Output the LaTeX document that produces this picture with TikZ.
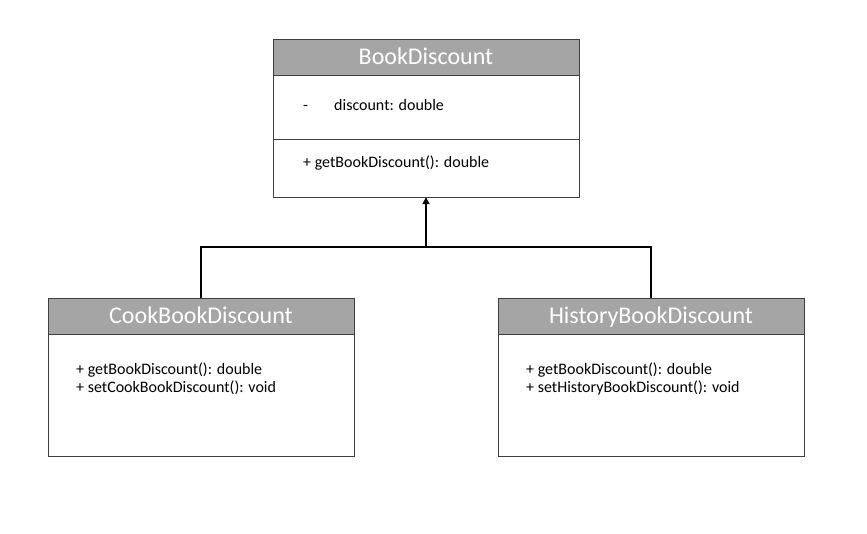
\documentclass[tikz,border=0pt]{standalone}
\usepackage{fontspec}
\setmainfont{Carlito}
\usetikzlibrary{arrows.meta}
\usetikzlibrary{positioning}
\definecolor{headgray}{HTML}{A5A5A5}
\definecolor{boxline}{HTML}{3F3F3F}

\begin{document}
\begin{tikzpicture}[x=1pt,y=-1pt,
	head/.style={rectangle, draw=boxline, fill=headgray, text=white, minimum width=306pt, minimum height=36pt, inner sep=0pt, text height=18pt, text depth=4pt, font=\fontsize{24}{28}\selectfont},
	part/.style={rectangle, draw=boxline, fill=white, minimum width=306pt, inner sep=0pt},
	member/.style={anchor=west, inner sep=0pt, text height=11pt, text depth=3pt, font=\fontsize{16}{19}\selectfont}]
	\useasboundingbox (0,0) rectangle (867,533);
	% Parent class
	\node[head] (B-1) at (426,57) {BookDiscount};
	\node[part, minimum height=64pt] (B-2) at (426,107) {};
	\node[part, minimum height=58pt] (B-3) at (426,168) {};
	\node[member] (B-minus) at (303,106) {-};
	\node[member] (B-attr) at (334,106) {discount: double};
	\node[member] (B-op) at (303,163) {+ getBookDiscount(): double};
	% Subclasses
	\foreach \n/\x/\sub in {C/201/CookBook, H/651/HistoryBook}{
		\node[head] (\n-1) at (\x,316) {\sub Discount};
		\node[part, minimum height=122pt] (\n-2) at (\x,395) {};
		\node[member] (\n-op1) at (\x-125,370) {+ getBookDiscount(): double};
		\node[member] (\n-op2) at (\x-125,388) {+ set\sub Discount(): void};
	}
	% Generalisation
	\coordinate (J) at (426,247);
	\draw[line width=2pt] (C-1.north) |- (J) -| (H-1.north);
	\draw[line width=2pt, -{Triangle[width=7pt,length=7pt]}] (J) -- (B-3.south);
\end{tikzpicture}
\end{document}
